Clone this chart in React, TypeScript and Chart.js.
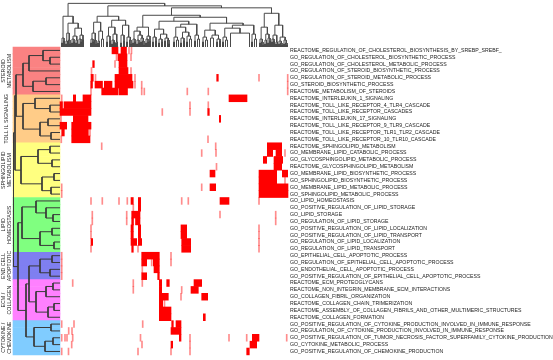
import React, { useEffect, useRef } from 'react';
import { Chart, registerables } from 'chart.js';

Chart.register(...registerables);

// ---------- data ----------
const ROW_LABELS = [
  'REACTOME_REGULATION_OF_CHOLESTEROL_BIOSYNTHESIS_BY_SREBP_SREBF_',
  'GO_REGULATION_OF_CHOLESTEROL_BIOSYNTHETIC_PROCESS',
  'GO_REGULATION_OF_CHOLESTEROL_METABOLIC_PROCESS',
  'GO_REGULATION_OF_STEROID_BIOSYNTHETIC_PROCESS',
  'GO_REGULATION_OF_STEROID_METABOLIC_PROCESS',
  'GO_STEROID_BIOSYNTHETIC_PROCESS',
  'REACTOME_METABOLISM_OF_STEROIDS',
  'REACTOME_INTERLEUKIN_1_SIGNALING',
  'REACTOME_TOLL_LIKE_RECEPTOR_4_TLR4_CASCADE',
  'REACTOME_TOLL_LIKE_RECEPTOR_CASCADES',
  'REACTOME_INTERLEUKIN_17_SIGNALING',
  'REACTOME_TOLL_LIKE_RECEPTOR_9_TLR9_CASCADE',
  'REACTOME_TOLL_LIKE_RECEPTOR_TLR1_TLR2_CASCADE',
  'REACTOME_TOLL_LIKE_RECEPTOR_10_TLR10_CASCADE',
  'REACTOME_SPHINGOLIPID_METABOLISM',
  'GO_MEMBRANE_LIPID_CATABOLIC_PROCESS',
  'GO_GLYCOSPHINGOLIPID_METABOLIC_PROCESS',
  'REACTOME_GLYCOSPHINGOLIPID_METABOLISM',
  'GO_MEMBRANE_LIPID_BIOSYNTHETIC_PROCESS',
  'GO_SPHINGOLIPID_BIOSYNTHETIC_PROCESS',
  'GO_MEMBRANE_LIPID_METABOLIC_PROCESS',
  'GO_SPHINGOLIPID_METABOLIC_PROCESS',
  'GO_LIPID_HOMEOSTASIS',
  'GO_POSITIVE_REGULATION_OF_LIPID_STORAGE',
  'GO_LIPID_STORAGE',
  'GO_REGULATION_OF_LIPID_STORAGE',
  'GO_POSITIVE_REGULATION_OF_LIPID_LOCALIZATION',
  'GO_POSITIVE_REGULATION_OF_LIPID_TRANSPORT',
  'GO_REGULATION_OF_LIPID_LOCALIZATION',
  'GO_REGULATION_OF_LIPID_TRANSPORT',
  'GO_EPITHELIAL_CELL_APOPTOTIC_PROCESS',
  'GO_REGULATION_OF_EPITHELIAL_CELL_APOPTOTIC_PROCESS',
  'GO_ENDOTHELIAL_CELL_APOPTOTIC_PROCESS',
  'GO_POSITIVE_REGULATION_OF_EPITHELIAL_CELL_APOPTOTIC_PROCESS',
  'REACTOME_ECM_PROTEOGLYCANS',
  'REACTOME_NON_INTEGRIN_MEMBRANE_ECM_INTERACTIONS',
  'GO_COLLAGEN_FIBRIL_ORGANIZATION',
  'REACTOME_COLLAGEN_CHAIN_TRIMERIZATION',
  'REACTOME_ASSEMBLY_OF_COLLAGEN_FIBRILS_AND_OTHER_MULTIMERIC_STRUCTURES',
  'REACTOME_COLLAGEN_FORMATION',
  'GO_POSITIVE_REGULATION_OF_CYTOKINE_PRODUCTION_INVOLVED_IN_IMMUNE_RESPONSE',
  'GO_REGULATION_OF_CYTOKINE_PRODUCTION_INVOLVED_IN_IMMUNE_RESPONSE',
  'GO_POSITIVE_REGULATION_OF_TUMOR_NECROSIS_FACTOR_SUPERFAMILY_CYTOKINE_PRODUCTION',
  'GO_CYTOKINE_METABOLIC_PROCESS',
  'GO_POSITIVE_REGULATION_OF_CHEMOKINE_PRODUCTION',
];

const GROUP_NAMES = [
  ['STEROID', 'METABOLISM'],
  ['TOLL IL SIGNALING'],
  ['SPHINGOLIPID', 'METABOLISM'],
  ['LIPID', 'HOMEOSTASIS'],
  ['END CELL', 'APOPTOTIC'],
  ['ECM /', 'COLLAGEN'],
  ['CYTOKINE /', 'CHEMOKINE'],
];
const GROUP_SIZES = [7, 7, 8, 8, 4, 6, 5];
const GROUP_COLORS = ['#FA8282', '#FFCC88', '#FFFF80', '#80FF80', '#7F7FF0', '#FF80FF', '#80CCFF'];

const N_COLS = 228;

// red runs per row: [startColumn, endColumn]
const RED_RUNS: number[][][] = [
  [[52, 58], [61, 66.5]],
  [[58, 67]],
  [[32.7, 34.3], [59, 67]],
  [[59, 68]],
  [[31, 33.3], [55, 72], [156.7, 158.3]],
  [[30.7, 32.5], [35, 42.5], [44.3, 52], [55, 73]],
  [[41.7, 58], [59, 67.5]],
  [[13.3, 15.7], [23, 31], [169, 187]],
  [[0, 2.5], [4, 31]],
  [[0, 31], [147.7, 149.3]],
  [[13.3, 28], [159.3, 160.7]],
  [[0, 6.7], [11.7, 31]],
  [[1.7, 4.3], [11.7, 28.3]],
  [[11.7, 30]],
  [[207.3, 221.7]],
  [[207.3, 212.7], [216, 221.7]],
  [[203.3, 206.7], [214, 222.7]],
  [[214, 221.7]],
  [[150, 155], [199, 216.7], [222.3, 227.7]],
  [[199, 216.7]],
  [[150, 155.7], [199, 228]],
  [[199, 228]],
  [[71, 73.3], [78.3, 80.7], [160, 169]],
  [[78.3, 80.7]],
  [[71.7, 80]],
  [[71.7, 73.5], [75.5, 80]],
  [[71, 73.3], [78.3, 80.7], [121, 126.7]],
  [[71, 73.3], [78.3, 80.7], [121, 126.7]],
  [[31, 32.7], [71, 76.7], [78.3, 81.7], [121.7, 130.7]],
  [[71.7, 73.3], [121.7, 130.7]],
  [[81.7, 99.3]],
  [[81.7, 86.7], [93.3, 99.3]],
  [[94, 99.3]],
  [[81.7, 86.7], [97.7, 99.3]],
  [[99.3, 101.7], [106.7, 109.3], [134, 141.7]],
  [[99.3, 101.7], [131, 138.3]],
  [[99.3, 102.7], [103.3, 108.3], [141.7, 147.7]],
  [[99.3, 102.7]],
  [[99.3, 111]],
  [[99.3, 111], [143.3, 145.3]],
  [[111.7, 113.3], [116, 121]],
  [[111, 121]],
  [[119.3, 121], [192.3, 199]],
  [[111, 112.7], [190, 196.7]],
  [[186.7, 189.3]],
];

// single faint (pink) columns per row
const FAINT_MARKS: number[][] = [
  [69, 71.5],
  [56.5, 71],
  [55],
  [31.5, 71],
  [35.5, 75, 199, 227.7],
  [75, 81.7, 227.7],
  [31, 81.7, 84.3, 127.3, 148.3, 227.7],
  [1.7],
  [130, 148.3],
  [102.3, 130],
  [1],
  [],
  [30],
  [1.3, 148],
  [41.7, 155.7],
  [141.7, 156, 225],
  [],
  [156.5],
  [],
  [225],
  [141.7, 1.7],
  [1.7],
  [31, 42.3, 59, 67.3, 121.7, 128.3, 199],
  [73.3],
  [32.3, 66.7, 160, 215.7],
  [32.3, 66.7, 215.7],
  [31, 199],
  [31, 199],
  [199],
  [31, 78, 199],
  [1.7, 111],
  [91.7, 111, 1.7],
  [82.3, 1.7],
  [1.7],
  [12.7, 73.3, 82.3],
  [73.3, 121.7],
  [121],
  [104.5],
  [],
  [],
  [1.7, 14, 82.7],
  [8.7, 12],
  [1.7, 5, 7, 12.7, 80.5, 130, 169, 186.7, 226.7],
  [11.7, 82, 130],
  [1.7, 8.5, 78, 111, 130],
];

// dendrograms: leaf = index, node = [left, right, mergeHeight]
type TreeNode = number | [TreeNode, TreeNode, number];

const ROW_STEROID: TreeNode = [[[0, [1, 2, 10], 17], 3, 31], [[4, 5, 14], 6, 27], 37];
const ROW_TOLL: TreeNode = [[7, [8, 9, 10], 25], [[10, 11, 12], [12, 13, 9], 20], 37];
const ROW_SPHINGO: TreeNode = [[[14, 15, 10], [16, 17, 8], 22], [[18, 19, 6], [20, 21, 9], 18], 39];
const ROW_LIPID: TreeNode = [[22, [23, [24, 25, 7], 14], 24], [[26, 27, 8], [28, 29, 6], 20], 38];
const ROW_APOP: TreeNode = [[30, 31, 8], [32, 33, 10], 20];
const ROW_ECM: TreeNode = [[[34, 35, 7], 36, 14], [[37, 38, 6], 39, 12], 24];
const ROW_CYTO: TreeNode = [[40, 41, 9], [[42, 43, 7], 44, 15], 26];
const ROW_TREE: TreeNode = [
  [[ROW_STEROID, ROW_TOLL, 44], ROW_SPHINGO, 45],
  [ROW_LIPID, [[ROW_APOP, ROW_ECM, 31], ROW_CYTO, 34], 42],
  46.5,
];

const COL_C1: TreeNode = [
  [[1, 2, 4], [3, 4, 6], 9],
  [
    [[[5, 6, 3], 7, 6], [8, [9, 10, 3], 7], 14],
    [[[[11, 12, 4], [13, 14, 5], 8], [[15, 16, 4], 17, 7], 11], [[[18, 19, 3], [20, 21, 5], 8], [22, 23, 7], 12], 19],
    24,
  ],
  31,
];
const COL_C2: TreeNode = [
  [[[[30, 31, 4], [32, 33, 5], 8], [34, [35, 36, 3], 7], 14], [[[37, 38, 4], 39, 6], [41, 43, 8], 16], 25],
  [[[[46, 47, 5], [49, 50, 6], 11], [[[51, 52, 3], [53, 54, 5], 7], [[55, 56, 4], 57, 5], 13], 20], [[[60, 61, 4], [63, 64, 6], 12], [[66, 67, 5], [69, [70, 71, 3], 7], 10], 22], 27],
  31,
];
const COL_C3: TreeNode = [
  [[[72, 73, 4], [74, 75, 5], 8], [[[76, 77, 3], [78, 79, 4], 7], [[80, 81, 5], [82, [83, 84, 2], 6], 9], 12], 16],
  [[[85, 86, 4], [87, 88, 5], 8], [89, 90, 6], 11],
  20,
];
const COL_C4A: TreeNode = [[[92, 93, 5], [95, 96, 6], 10], [[[98, 99, 4], [101, 102, 5], 8], [[104, 105, 6], [107, [108, 109, 3], 7], 9], 13], 18];
const COL_C4B: TreeNode = [[[[113, 114, 5], [116, 118, 7], 10], [[[120, 121, 4], [123, 124, 6], 9], [[126, 127, 5], [129, 131, 8], 11], 15], 20], [[134, 135, 6], [137, 139, 8], 12], 23];
const COL_C4C: TreeNode = [[[142, 143, 5], [145, 147, 7], 10], [[150, 153, 9], [[156, 157, 5], [159, 160, 6], 8], 12], 17];
const COL_C4D: TreeNode = [[[[162, 163, 5], [165, 167, 7], 10], [170, 189, 14], 19], [[191, 192, 5], [194, 196, 8], 13], 22];
const COL_C5: TreeNode = [
  [[[199, 200, 4], [201, [202, 203, 2], 5], 8], [[[204, 205, 3], 206, 7], [[207, 208, 4], [209, 210, 6], 9], 13], 20],
  [[[[211, 212, 5], [213, 214, 6], 8], [[215, 216, 3], 217, 5], 12], [[[218, 219, 3], [220, [221, 222, 2], 4], 6], [[223, 224, 3], [225, [226, 227, 2], 4], 7], 10], 22],
  34,
];
const COL_TREE: TreeNode = [
  COL_C1,
  [COL_C2, [[COL_C3, [[COL_C4A, COL_C4B, 26], [COL_C4C, COL_C4D, 24], 30], 32], COL_C5, 39.5], 41.5],
  44,
];

// ---------- layout / style constants ----------
const W = 553;
const H = 360;
const PLOT = { left: 60, top: 47, right: 288, bottom: 357.5 };
const BAND_DEPTH = 47;
const FONT = '"Liberation Sans", Arial, Helvetica, sans-serif';
const LABEL_X = 7;
const LABEL_GAP = 6;

function layoutTree(node: TreeNode, out: { p: number; h: number }[]): { p: number; h: number } {
  if (typeof node === 'number') return { p: node + 0.5, h: 0 };
  const a = layoutTree(node[0], out);
  const b = layoutTree(node[1], out);
  const h = node[2];
  out.push({ p: a.p, h: a.h }, { p: a.p, h }, { p: b.p, h }, { p: b.p, h: b.h }, { p: NaN, h: NaN });
  return { p: (a.p + b.p) / 2, h };
}

const groupLabelPlugin = {
  id: 'groupLabels',
  afterDatasetsDraw(chart: any) {
    const ys = chart.scales.y;
    const ctx = chart.ctx;
    ctx.save();
    ctx.fillStyle = '#222';
    ctx.font = `5.3px ${FONT}`;
    ctx.textAlign = 'center';
    ctx.textBaseline = 'middle';
    let start = 0;
    GROUP_SIZES.forEach((n, g) => {
      const cy = ys.getPixelForValue(start + n / 2);
      const lines = GROUP_NAMES[g];
      ctx.save();
      ctx.translate(LABEL_X, cy);
      ctx.rotate(-Math.PI / 2);
      lines.forEach((t, i) => ctx.fillText(t, 0, (i - (lines.length - 1) / 2) * LABEL_GAP));
      ctx.restore();
      start += n;
    });
    ctx.restore();
  },
};

export default function App() {
  const ref = useRef<HTMLCanvasElement>(null);

  useEffect(() => {
    if (!ref.current) return;

    // group colour bands
    const rowGroupColor: string[] = [];
    GROUP_SIZES.forEach((n, g) => {
      for (let i = 0; i < n; i++) rowGroupColor.push(GROUP_COLORS[g]);
    });
    const bandData = ROW_LABELS.map((_, r) => ({ x: [0, BAND_DEPTH], y: r + 0.5 }));

    // heatmap cells
    const heatData: any[] = [];
    const heatColors: string[] = [];
    RED_RUNS.forEach((runs, r) => {
      runs.forEach(([s, e]) => {
        heatData.push({ x: [s, e], y: r + 0.5 });
        heatColors.push('#FF0000');
      });
    });
    FAINT_MARKS.forEach((marks, r) => {
      marks.forEach((p) => {
        heatData.push({ x: [p - 0.5, p + 0.5], y: r + 0.5 });
        heatColors.push('rgba(255,0,0,0.45)');
      });
    });

    // dendrograms
    const rowSeg: { p: number; h: number }[] = [];
    layoutTree(ROW_TREE, rowSeg);
    const rowDendro = rowSeg.map((s) => (isNaN(s.p) ? { x: null, y: null } : { x: s.h, y: s.p }));
    const colSeg: { p: number; h: number }[] = [];
    layoutTree(COL_TREE, colSeg);
    const colDendro = colSeg.map((s) => (isNaN(s.p) ? { x: null, y: null } : { x: s.p, y: s.h }));

    const plotW = PLOT.right - PLOT.left;
    const plotH = PLOT.bottom - PLOT.top;

    const hidden = { display: false, offset: false, grid: { offset: false } };

    const chart = new Chart(ref.current, {
      type: 'bar',
      data: {
        datasets: [
          {
            type: 'bar',
            indexAxis: 'y',
            data: bandData as any,
            xAxisID: 'xd',
            yAxisID: 'y',
            backgroundColor: rowGroupColor,
            borderWidth: 0,
            grouped: false,
            barPercentage: 1,
            categoryPercentage: 1,
            clip: false as any,
            order: 3,
          } as any,
          {
            type: 'bar',
            indexAxis: 'y',
            data: heatData,
            xAxisID: 'x',
            yAxisID: 'y',
            backgroundColor: heatColors,
            borderWidth: 0,
            grouped: false,
            barPercentage: 1,
            categoryPercentage: 1,
            clip: false as any,
            order: 2,
          } as any,
          {
            type: 'line',
            indexAxis: 'y',
            data: rowDendro as any,
            xAxisID: 'xd',
            yAxisID: 'y',
            borderColor: '#3a3a3a',
            borderWidth: 1,
            pointRadius: 0,
            fill: false,
            tension: 0,
            spanGaps: false,
            clip: false as any,
            order: 1,
          } as any,
          {
            type: 'line',
            data: colDendro as any,
            xAxisID: 'x',
            yAxisID: 'yd',
            borderColor: '#4a4a4a',
            borderWidth: 1,
            pointRadius: 0,
            fill: false,
            tension: 0,
            spanGaps: false,
            clip: false as any,
            order: 1,
          } as any,
        ],
      },
      options: {
        responsive: false,
        animation: false,
        devicePixelRatio: 1,
        events: [],
        layout: { padding: { left: PLOT.left, top: PLOT.top, right: 0, bottom: H - PLOT.bottom } },
        plugins: { legend: { display: false }, tooltip: { enabled: false } },
        scales: {
          x: { type: 'linear', ...hidden, min: 0, max: N_COLS },
          xd: { type: 'linear', ...hidden, reverse: true, min: -plotW, max: 0 },
          yd: { type: 'linear', ...hidden, min: -plotH, max: 0 },
          y: {
            type: 'linear',
            position: 'right',
            reverse: true,
            offset: false,
            min: 0,
            max: ROW_LABELS.length,
            grid: { display: false, drawTicks: false, offset: false },
            border: { display: false },
            ticks: {
              autoSkip: false,
              padding: 2,
              color: '#222',
              font: { size: 5.2, family: FONT },
              callback: (_v: any, i: number) => ROW_LABELS[i],
            },
            afterBuildTicks: (scale: any) => {
              scale.ticks = ROW_LABELS.map((_, i) => ({ value: i + 0.5 }));
            },
            afterFit: (scale: any) => {
              scale.width = W - PLOT.right;
            },
          } as any,
        },
      } as any,
      plugins: [groupLabelPlugin],
    });

    return () => chart.destroy();
  }, []);

  return (
    <div style={{ position: 'fixed', left: 0, top: 0, width: W, height: H, background: '#fff' }}>
      <canvas ref={ref} width={W} height={H} style={{ display: 'block' }} />
    </div>
  );
}
